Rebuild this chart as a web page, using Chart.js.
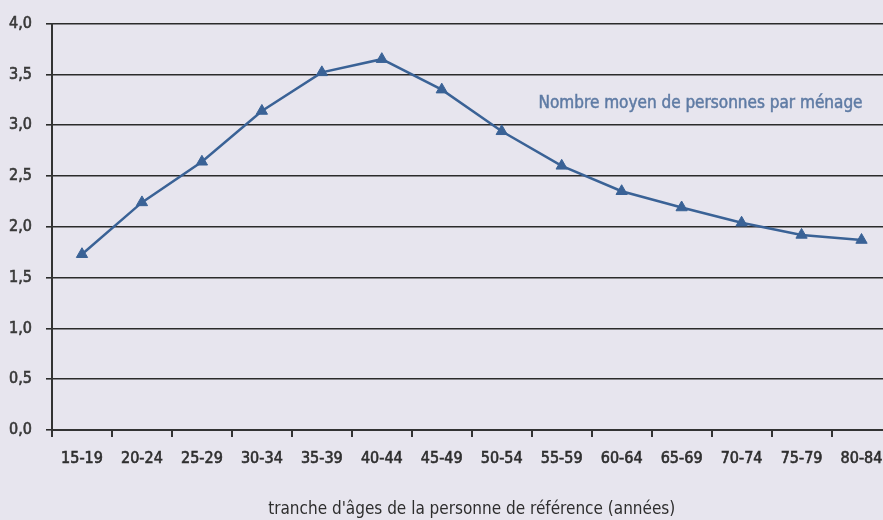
<!DOCTYPE html>
<html>
<head>
<meta charset="utf-8">
<script src="https://cdn.jsdelivr.net/npm/chart.js@4/dist/chart.umd.min.js"></script>
<style>
  html, body { margin: 0; padding: 0; background: #e7e5ee; overflow: hidden; }
  #wrap { width: 899px; height: 520px; position: relative; }
</style>
</head>
<body>
<div id="wrap"><canvas id="chart" width="899" height="520"></canvas></div>
<script>
// Average household size by age bracket of the reference person
const ageBrackets = ['15-19', '20-24', '25-29', '30-34', '35-39', '40-44', '45-49',
                     '50-54', '55-59', '60-64', '65-69', '70-74', '75-79', '80-84'];
const householdSize = [1.73, 2.24, 2.64, 3.14, 3.52, 3.65, 3.35,
                       2.94, 2.60, 2.35, 2.19, 2.04, 1.92, 1.87];
const seriesLabel = 'Nombre moyen de personnes par ménage';
const xAxisTitle = "tranche d'âges de la personne de référence (années)";
const yTicks = [0, 0.5, 1, 1.5, 2, 2.5, 3, 3.5, 4];

const FONT = "'Liberation Sans Narrow', 'DejaVu Sans Condensed', 'Roboto Condensed', sans-serif";
const LINE = '#3a6296';
const INK = '#2e2e2e';

// Series caption written inside the plot, top right
const seriesCaption = {
  id: 'seriesCaption',
  afterDatasetsDraw(chart) {
    const { ctx, chartArea } = chart;
    ctx.save();
    ctx.font = '17px ' + FONT;
    ctx.fillStyle = '#5f7ba4';
    ctx.strokeStyle = '#5f7ba4';
    ctx.lineWidth = 0.5;
    ctx.textAlign = 'right';
    ctx.textBaseline = 'middle';
    const x = chartArea.right - 29, y = chartArea.top + 80;
    ctx.fillText(chart.data.datasets[0].label, x, y);
    ctx.strokeText(chart.data.datasets[0].label, x, y);
    ctx.restore();
  }
};

new Chart(document.getElementById('chart'), {
  type: 'line',
  data: {
    labels: ageBrackets,
    datasets: [{
      label: seriesLabel,
      data: householdSize,
      borderColor: LINE,
      backgroundColor: LINE,
      borderWidth: 2.5,
      pointStyle: 'triangle',
      pointRadius: 6.5,
      pointBorderWidth: 1,
      pointBorderColor: LINE,
      pointBackgroundColor: LINE,
      tension: 0,
      clip: false
    }]
  },
  options: {
    responsive: false,
    animation: false,
    layout: { padding: { top: 22, right: 0, left: 0, bottom: 0 } },
    plugins: {
      legend: { display: false },
      tooltip: { enabled: false }
    },
    scales: {
      x: {
        offset: true,
        grid: {
          offset: true,
          drawOnChartArea: false,
          drawTicks: true,
          tickLength: 7,
          color: '#333333',
          lineWidth: 2
        },
        border: { display: true, color: '#333333', width: 2 },
        ticks: {
          color: INK,
          font: { family: FONT, size: 16 },
          textStrokeColor: INK,
          textStrokeWidth: 0.6,
          padding: 12,
          maxRotation: 0,
          autoSkip: false
        },
        title: {
          display: true,
          text: xAxisTitle,
          color: INK,
          font: { family: FONT, size: 17 },
          padding: { top: 13, bottom: 0 }
        },
        afterFit(scale) { scale.height = 90; }
      },
      y: {
        min: 0,
        max: 4,
        afterBuildTicks(scale) { scale.ticks = yTicks.map(v => ({ value: v })); },
        grid: {
          color: '#2b2b2b',
          lineWidth: 1.6,
          drawTicks: true,
          tickLength: 6
        },
        border: { display: true, color: '#333333', width: 2 },
        ticks: {
          color: '#383838',
          font: { family: FONT, size: 16 },
          textStrokeColor: '#383838',
          textStrokeWidth: 0.6,
          padding: 14,
          callback: v => v.toFixed(1).replace('.', ',')
        },
        afterFit(scale) { scale.width = 52; }
      }
    }
  },
  plugins: [seriesCaption]
});
</script>
</body>
</html>
